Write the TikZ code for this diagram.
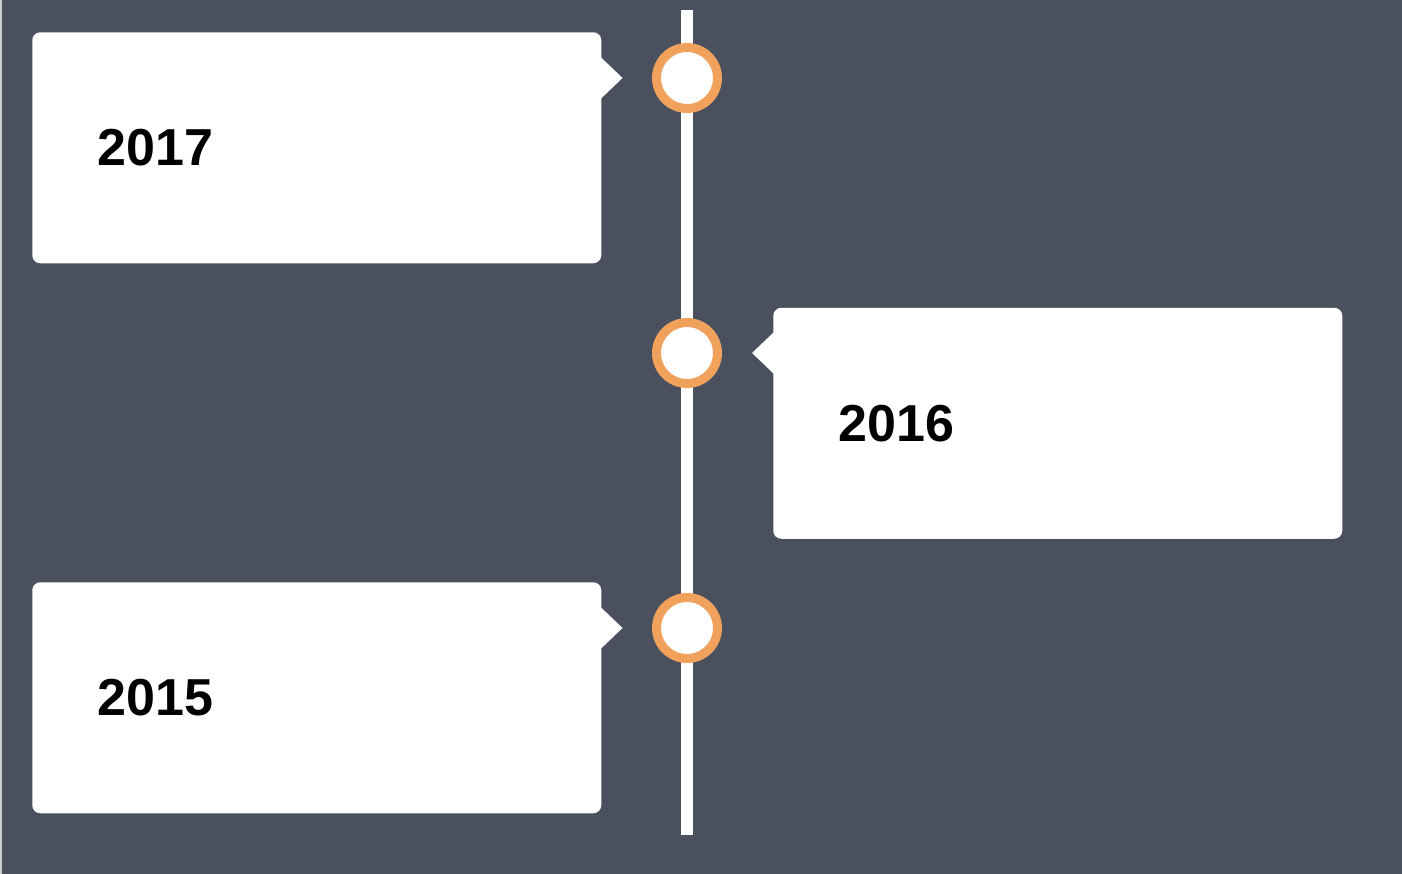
\documentclass[tikz,border=0pt]{standalone}
\usepackage{fontspec}
\setmainfont{Liberation Sans}
\definecolor{slate}{RGB}{74,80,94}
\definecolor{dotring}{RGB}{240,162,92}
\tikzset{
  yearbox/.style={fill=white, rounded corners=6pt, inner xsep=48.75pt, inner ysep=0pt,
    text width=329.25pt, align=left, minimum height=173.25pt, anchor=north west,
    font=\bfseries\fontsize{39}{46}\selectfont},
  yeardot/.style={circle, fill=white, draw=dotring, line width=6.75pt, minimum size=45.75pt, inner sep=0pt},
}
\begin{document}
\begin{tikzpicture}[x=0.75pt,y=0.75pt,yscale=-1,xscale=1]
\useasboundingbox (0,0) rectangle (1402,874);
\fill[black!20] (0,0) rectangle (1402,874);
\fill[slate] (2,0) rectangle (1402,874);

%Timeline
\coordinate (top) at (686.5,10);
\coordinate (bottom) at (686.5,835);
\draw[white, line width=9pt] (top) -- (bottom);

%Dots
\node[yeardot] (d2017) at (687,78) {};
\node[yeardot] (d2016) at (687,353) {};
\node[yeardot] (d2015) at (687,628) {};

%Boxes
\node[yearbox] (b2017) at (32,32) {2017};
\node[yearbox] (b2016) at (773,307.5) {2016};
\node[yearbox] (b2015) at (32,582) {2015};

%Pointers
\fill[white] (b2017.east |- d2017) ++(-1,-21) -- ++(22,21) -- ++(-22,21) -- cycle;
\fill[white] (b2016.west |- d2016) ++(1,-21) -- ++(-22,21) -- ++(22,21) -- cycle;
\fill[white] (b2015.east |- d2015) ++(-1,-21) -- ++(22,21) -- ++(-22,21) -- cycle;

\end{tikzpicture}
\end{document}
